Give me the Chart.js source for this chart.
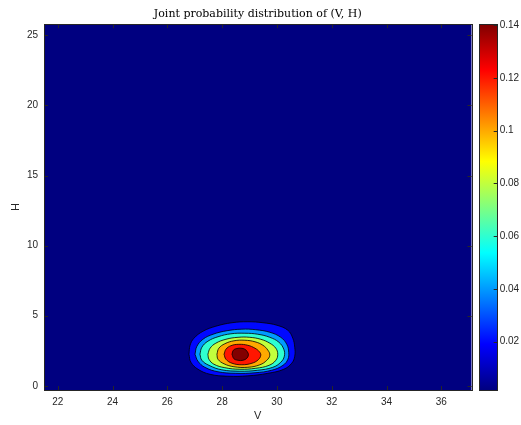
<!DOCTYPE html>
<html>
<head>
<meta charset="utf-8">
<script src="https://cdn.jsdelivr.net/npm/chart.js@4.4.0/dist/chart.umd.min.js"></script>
<style>
  html, body { margin: 0; padding: 0; background: #fff; }
  #wrap { position: relative; width: 521px; height: 425px; }
  #main { position: absolute; left: 0; top: 0; width: 521px; height: 425px; }
  #cbar { position: absolute; left: 470px; top: 0; width: 51px; height: 425px; }
</style>
</head>
<body>
<div id="wrap">
  <canvas id="main" width="521" height="425"></canvas>
  <canvas id="cbar" width="51" height="425"></canvas>
</div>
<script>
// contour levels of the joint pdf and the colour scale limits
const levels = [0.02, 0.04, 0.06, 0.08, 0.10, 0.12, 0.14];
const cbMin = 0.0016, cbMax = 0.1404;

// contour lines, [V, H] pairs
const contour002 = [[26.79,2.25],[26.83,2.89],[26.97,3.39],[27.30,3.89],[27.77,4.25],[28.36,4.50],[28.94,4.57],[29.49,4.50],[30.00,4.32],[30.40,3.96],[30.58,3.39],[30.65,2.75],[30.65,2.11],[30.54,1.61],[30.25,1.18],[29.67,0.89],[28.94,0.71],[28.21,0.68],[27.56,0.82],[27.12,1.18],[26.86,1.68],[26.79,2.25]];
const contour004 = [[27.01,2.25],[27.08,2.82],[27.30,3.32],[27.67,3.68],[28.18,3.93],[28.72,4.04],[29.23,4.00],[29.74,3.82],[30.14,3.46],[30.36,2.96],[30.43,2.39],[30.40,1.89],[30.22,1.46],[29.81,1.11],[29.20,0.93],[28.50,0.89],[27.85,1.00],[27.37,1.32],[27.12,1.75],[27.01,2.25]];
const contour006 = [[27.19,2.25],[27.26,2.75],[27.48,3.18],[27.85,3.50],[28.32,3.71],[28.83,3.75],[29.30,3.68],[29.74,3.46],[30.07,3.11],[30.25,2.61],[30.27,2.11],[30.14,1.68],[29.85,1.32],[29.30,1.11],[28.65,1.04],[27.99,1.14],[27.52,1.46],[27.26,1.82],[27.19,2.25]];
const contour008 = [[27.48,2.25],[27.56,2.68],[27.77,3.04],[28.14,3.32],[28.58,3.46],[29.01,3.46],[29.41,3.32],[29.74,3.04],[29.96,2.68],[30.03,2.25],[29.96,1.82],[29.71,1.46],[29.23,1.25],[28.65,1.18],[28.10,1.29],[27.70,1.54],[27.52,1.89],[27.48,2.25]];
const contour010 = [[27.81,2.25],[27.88,2.68],[28.10,3.00],[28.43,3.21],[28.83,3.25],[29.20,3.14],[29.49,2.89],[29.67,2.54],[29.74,2.18],[29.63,1.82],[29.38,1.50],[28.94,1.32],[28.43,1.36],[28.07,1.57],[27.85,1.89],[27.81,2.25]];
const contour012 = [[28.07,2.25],[28.14,2.61],[28.32,2.86],[28.61,2.96],[28.94,2.89],[29.20,2.68],[29.36,2.43],[29.41,2.18],[29.32,1.86],[29.09,1.61],[28.72,1.50],[28.36,1.61],[28.14,1.89],[28.07,2.25]];
const contour014 = [[28.36,2.25],[28.41,2.54],[28.54,2.66],[28.69,2.68],[28.83,2.61],[28.92,2.43],[28.96,2.21],[28.90,1.96],[28.76,1.82],[28.58,1.82],[28.43,1.93],[28.36,2.25]];
const contours = [contour002, contour004, contour006, contour008, contour010, contour012, contour014];

// ticks
const xTicks = [22, 24, 26, 28, 30, 32, 34, 36];
const yTicks = [0, 5, 10, 15, 20, 25];
const cbTicks = [0.02, 0.04, 0.06, 0.08, 0.1, 0.12, 0.14];

// matlab jet colormap
function jet(t) {
    const c = v => Math.round(255 * Math.max(0, Math.min(1, v)));
    return 'rgb(' + c(1.5 - Math.abs(4 * t - 3)) + ',' + c(1.5 - Math.abs(4 * t - 2)) + ',' + c(1.5 - Math.abs(4 * t - 1)) + ')';
}
const norm = v => (v - cbMin) / (cbMax - cbMin);

const axisColor = '#262626';
const tickFont = { family: 'Liberation Sans', size: 10 };

/* navy background under the contours, then the box and inward ticks on top */
const framePlugin = {
    id: 'frame',
    beforeDatasetsDraw(chart) {
        const { ctx, chartArea: a } = chart;
        ctx.save();
        ctx.fillStyle = jet(0);
        ctx.fillRect(a.left, a.top, a.right - a.left, a.bottom - a.top);
        ctx.restore();
    },
    afterDraw(chart) {
        const { ctx, chartArea: a, scales } = chart;
        ctx.save();
        ctx.strokeStyle = axisColor;
        ctx.lineWidth = 1;
        ctx.beginPath();
        scales.x.ticks.forEach(t => {
            const px = Math.round(scales.x.getPixelForValue(t.value)) + 0.5;
            ctx.moveTo(px, a.bottom); ctx.lineTo(px, a.bottom - 4);
            ctx.moveTo(px, a.top); ctx.lineTo(px, a.top + 4);
        });
        scales.y.ticks.forEach(t => {
            const py = Math.round(scales.y.getPixelForValue(t.value)) + 0.5;
            ctx.moveTo(a.left, py); ctx.lineTo(a.left + 4, py);
            ctx.moveTo(a.right, py); ctx.lineTo(a.right - 4, py);
        });
        ctx.stroke();
        ctx.strokeRect(Math.round(a.left) + 0.5, Math.round(a.top) + 0.5, Math.round(a.right - a.left), Math.round(a.bottom - a.top));
        ctx.restore();
    }
};

const mainConfig = {
    type: 'scatter',
    data: {
        datasets: levels.map((lv, i) => ({
            label: String(lv),
            data: contours[i].map(p => ({ x: p[0], y: p[1] })),
            showLine: true,
            fill: 'shape',
            backgroundColor: jet(norm(lv)),
            borderColor: '#000',
            borderWidth: 0.8,
            pointRadius: 0,
            tension: 0.4,
            order: levels.length - i
        }))
    },
    options: {
        responsive: false,
        animation: false,
        layout: { padding: { left: 0, right: 49.5, top: 0, bottom: 0 } },
        plugins: {
            legend: { display: false },
            tooltip: { enabled: false },
            title: {
                display: true,
                fullSize: false,
                text: 'Joint probability distribution of (V, H)',
                color: '#000',
                font: { family: 'DejaVu Serif', size: 11, weight: 'normal' },
                padding: { top: 8, bottom: 3 }
            }
        },
        scales: {
            x: {
                type: 'linear',
                min: 21.5,
                max: 37.1,
                afterBuildTicks: s => { s.ticks = xTicks.map(v => ({ value: v })); },
                afterFit: s => { s.height = 35; },
                grid: { display: false, drawTicks: false },
                border: { display: false },
                ticks: { color: axisColor, font: tickFont, padding: 6, maxRotation: 0, autoSkip: false },
                title: { display: true, text: 'V', color: axisColor, font: { family: 'Liberation Sans', size: 11 }, padding: { top: 0, bottom: 2.5 } }
            },
            y: {
                type: 'linear',
                min: -0.3,
                max: 25.8,
                afterBuildTicks: s => { s.ticks = yTicks.map(v => ({ value: v })); },
                afterFit: s => { s.width = 44; },
                grid: { display: false, drawTicks: false },
                border: { display: false },
                ticks: { color: axisColor, font: tickFont, padding: 6, autoSkip: false },
                title: { display: true, text: 'H', color: axisColor, font: { family: 'Liberation Sans', size: 11 }, padding: { top: 9, bottom: 0 } }
            }
        }
    },
    plugins: [framePlugin]
};

/* colorbar: one floating bar with the jet gradient */
function jetGradient(chart) {
    const a = chart.chartArea;
    if (!a || !isFinite(a.top) || !isFinite(a.bottom)) return jet(0.5);
    const g = chart.ctx.createLinearGradient(0, a.bottom, 0, a.top);
    [0, 0.125, 0.375, 0.625, 0.875, 1].forEach(t => g.addColorStop(t, jet(t)));
    return g;
}

const cbFramePlugin = {
    id: 'cbFrame',
    afterDraw(chart) {
        const { ctx, chartArea: a, scales } = chart;
        ctx.save();
        ctx.strokeStyle = axisColor;
        ctx.lineWidth = 1;
        ctx.beginPath();
        scales.y.ticks.forEach(t => {
            const py = Math.round(scales.y.getPixelForValue(t.value)) + 0.5;
            ctx.moveTo(a.right, py); ctx.lineTo(a.right - 4, py);
        });
        ctx.stroke();
        ctx.strokeRect(Math.round(a.left) + 0.5, Math.round(a.top) + 0.5, Math.round(a.right - a.left), Math.round(a.bottom - a.top));
        ctx.restore();
    }
};

const cbConfig = {
    type: 'bar',
    data: {
        labels: [''],
        datasets: [{
            data: [[cbMin, cbMax]],
            backgroundColor: ctx => jetGradient(ctx.chart),
            borderWidth: 0,
            barPercentage: 1,
            categoryPercentage: 1
        }]
    },
    options: {
        responsive: false,
        animation: false,
        layout: { padding: { left: 9.3, right: 0, top: 24.2, bottom: 35 } },
        plugins: { legend: { display: false }, tooltip: { enabled: false } },
        scales: {
            x: { display: false },
            y: {
                position: 'right',
                min: cbMin,
                max: cbMax,
                afterBuildTicks: s => { s.ticks = cbTicks.map(v => ({ value: v })); },
                afterFit: s => { s.width = 23.3; },
                grid: { display: false, drawTicks: false },
                border: { display: false },
                ticks: { color: axisColor, font: tickFont, padding: 2, autoSkip: false, callback: v => String(+v.toFixed(2)) }
            }
        }
    },
    plugins: [cbFramePlugin]
};

new Chart(document.getElementById('main'), mainConfig);
new Chart(document.getElementById('cbar'), cbConfig);
</script>
</body>
</html>
